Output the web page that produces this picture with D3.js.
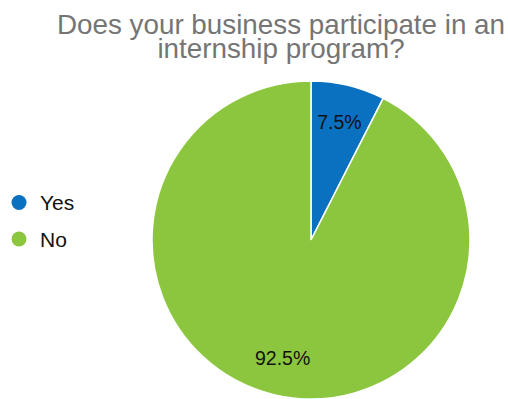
<!DOCTYPE html>
<html>
<head>
<meta charset="utf-8">
<script src="https://cdn.jsdelivr.net/npm/d3@7/dist/d3.min.js"></script>
<style>
  html, body { margin: 0; padding: 0; background: #fff; }
  svg { display: block; font-family: "Liberation Sans", Arial, sans-serif; }
</style>
</head>
<body>
<svg id="chart" width="508" height="399"></svg>
<script>
// Survey answers and their shares (percent)
const categories = ["Yes", "No"];
const values = [7.5, 92.5];
const colors = ["#0a70c0", "#8cc63f"];
const titleLines = ["Does your business participate in an", "internship program?"];

const svg = d3.select("#chart");

// Title
svg.append("g")
  .selectAll("text")
  .data(titleLines)
  .join("text")
  .attr("x", 281)
  .attr("y", (d, i) => 34 + i * 24)
  .attr("text-anchor", "middle")
  .attr("font-size", 27.8)
  .attr("fill", "#757575")
  .text(d => d);

// Pie
const cx = 311, cy = 240, r = 159;
const color = d3.scaleOrdinal().domain(categories).range(colors);
const pie = d3.pie().sort(null).value(d => d.value);
const arcs = pie(categories.map((c, i) => ({ name: c, value: values[i] })));
const arc = d3.arc().innerRadius(0).outerRadius(r);
const labelArc = d3.arc().innerRadius(r * 0.765).outerRadius(r * 0.765);

const g = svg.append("g").attr("transform", `translate(${cx},${cy})`);
g.selectAll("path")
  .data(arcs)
  .join("path")
  .attr("d", arc)
  .attr("fill", d => color(d.data.name))
  .attr("stroke", "#fff")
  .attr("stroke-width", 1.5);

g.selectAll("text")
  .data(arcs)
  .join("text")
  .attr("transform", d => `translate(${labelArc.centroid(d)})`)
  .attr("text-anchor", "middle")
  .attr("dy", "0.35em")
  .attr("font-size", 19.5)
  .attr("fill", "#111")
  .text(d => d.data.value + "%");

// Legend
const legend = svg.append("g")
  .selectAll("g")
  .data(categories)
  .join("g")
  .attr("transform", (d, i) => `translate(19,${202.5 + i * 36.5})`);
legend.append("circle")
  .attr("r", 7.5)
  .attr("fill", d => color(d));
legend.append("text")
  .attr("x", 21)
  .attr("dy", "0.36em")
  .attr("font-size", 21)
  .attr("fill", "#111")
  .text(d => d);
</script>
</body>
</html>
